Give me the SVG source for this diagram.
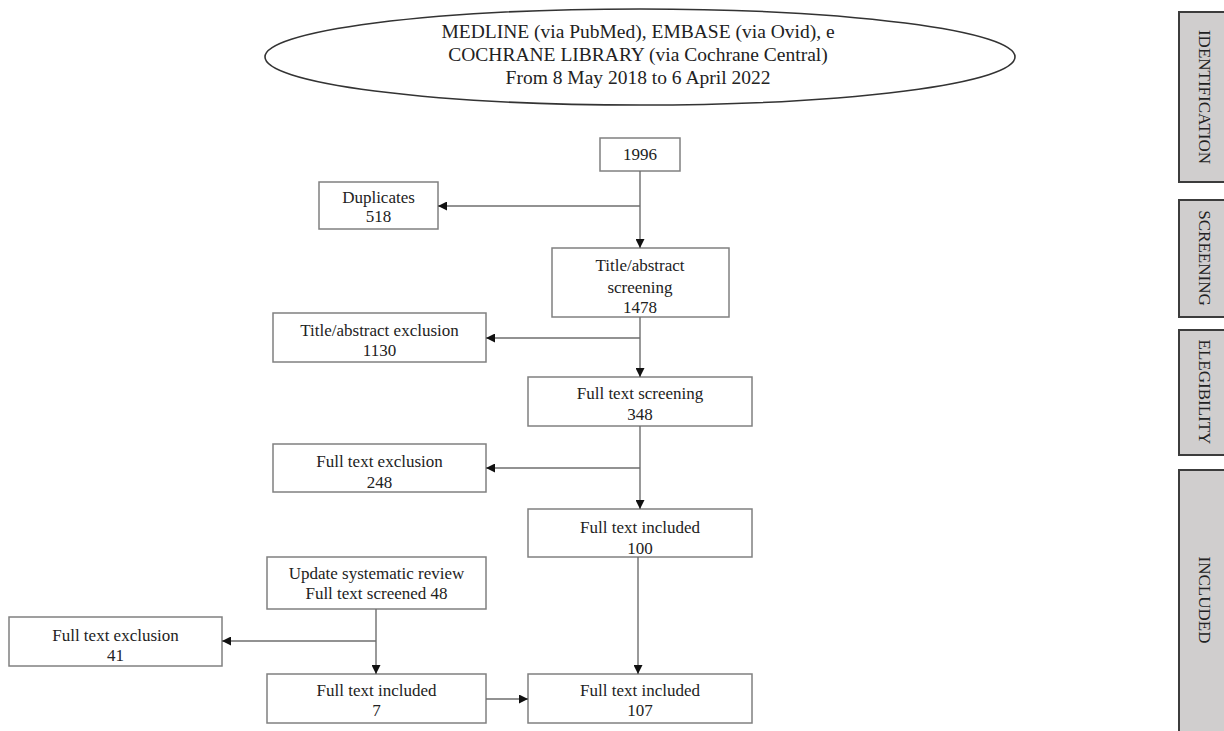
<svg xmlns="http://www.w3.org/2000/svg" width="1224" height="731" viewBox="0 0 1224 731">
<style>
.box{fill:#fff;stroke:#808080;stroke-width:1.5}
.t{font-family:"Liberation Serif","Times New Roman",serif;font-size:17px;fill:#222;text-anchor:middle}
.e{font-family:"Liberation Serif","Times New Roman",serif;font-size:19.5px;fill:#222;text-anchor:middle}
.c{fill:none;stroke:#6e6e6e;stroke-width:1.4}
.side{fill:#d0cece;stroke:#3c3c3c;stroke-width:2}
.st{font-family:"Liberation Serif","Times New Roman",serif;font-size:17px;fill:#222;text-anchor:middle}
</style>
<defs>
<marker id="ah" viewBox="0 0 10 10" refX="10" refY="5" markerWidth="9" markerHeight="9" markerUnits="userSpaceOnUse" orient="auto">
<path d="M0,0 L10,5 L0,10 Z" fill="#111"/>
</marker>
</defs>
<rect width="1224" height="731" fill="#fff"/>

<g id="source">
<ellipse cx="640" cy="57" rx="375" ry="48" fill="#fff" stroke="#333" stroke-width="1.6"/>
<text class="e" x="638" y="38">MEDLINE (via PubMed), EMBASE (via Ovid), e</text>
<text class="e" x="638" y="61">COCHRANE  LIBRARY (via Cochrane  Central)</text>
<text class="e" x="638" y="84">From 8 May 2018 to 6 April 2022</text>
</g>

<g id="n1996"><rect class="box" x="600" y="138" width="80" height="33"/><text class="t" x="640" y="160">1996</text></g>
<g id="duplicates"><rect class="box" x="319" y="182" width="119" height="47"/><text class="t" x="378.5" y="203">Duplicates</text><text class="t" x="378.5" y="222">518</text></g>
<g id="tascreen"><rect class="box" x="552" y="248" width="177" height="69"/><text class="t" x="640" y="271">Title/abstract</text><text class="t" x="640" y="293">screening</text><text class="t" x="640" y="313">1478</text></g>
<g id="taexcl"><rect class="box" x="273" y="313" width="213" height="49"/><text class="t" x="379.5" y="336">Title/abstract  exclusion</text><text class="t" x="379.5" y="356">1130</text></g>
<g id="ftscreen"><rect class="box" x="528" y="377" width="224" height="49"/><text class="t" x="640" y="399">Full text screening</text><text class="t" x="640" y="420">348</text></g>
<g id="ftexcl"><rect class="box" x="273" y="444" width="213" height="48"/><text class="t" x="379.5" y="467">Full text exclusion</text><text class="t" x="379.5" y="488">248</text></g>
<g id="ftinc100"><rect class="box" x="528" y="509" width="224" height="48"/><text class="t" x="640" y="533">Full text included</text><text class="t" x="640" y="554">100</text></g>
<g id="update"><rect class="box" x="267" y="557" width="219" height="52"/><text class="t" x="376.5" y="579">Update systematic review</text><text class="t" x="376.5" y="599">Full text screened 48</text></g>
<g id="ftexcl41"><rect class="box" x="9" y="617" width="213" height="49"/><text class="t" x="115.5" y="641">Full text exclusion</text><text class="t" x="115.5" y="661">41</text></g>
<g id="ftinc7"><rect class="box" x="267" y="674" width="219" height="49"/><text class="t" x="376.5" y="696">Full text included</text><text class="t" x="376.5" y="716">7</text></g>
<g id="ftinc107"><rect class="box" x="528" y="674" width="224" height="49"/><text class="t" x="640" y="696">Full text included</text><text class="t" x="640" y="716">107</text></g>

<g id="connectors">
<path class="c" d="M640,171 V248" marker-end="url(#ah)"/>
<path class="c" d="M640,206 H438" marker-end="url(#ah)"/>
<path class="c" d="M640,317 V377" marker-end="url(#ah)"/>
<path class="c" d="M640,338 H486" marker-end="url(#ah)"/>
<path class="c" d="M640,426 V509" marker-end="url(#ah)"/>
<path class="c" d="M640,468 H486" marker-end="url(#ah)"/>
<path class="c" d="M638,557 V674" marker-end="url(#ah)"/>
<path class="c" d="M376,609 V674" marker-end="url(#ah)"/>
<path class="c" d="M376,641 H222" marker-end="url(#ah)"/>
<path class="c" d="M486,699 H528" marker-end="url(#ah)"/>
</g>

<g id="identification"><rect class="side" x="1179" y="12" width="60" height="170"/><text class="st" transform="translate(1199,97) rotate(90)">IDENTIFICATION</text></g>
<g id="screening"><rect class="side" x="1179" y="200" width="60" height="117"/><text class="st" transform="translate(1199,258) rotate(90)">SCREENING</text></g>
<g id="elegibility"><rect class="side" x="1179" y="330" width="60" height="125"/><text class="st" transform="translate(1199,392) rotate(90)">ELEGIBILITY</text></g>
<g id="included"><rect class="side" x="1179" y="470" width="60" height="280"/><text class="st" transform="translate(1199,600) rotate(90)">INCLUDED</text></g>
</svg>
